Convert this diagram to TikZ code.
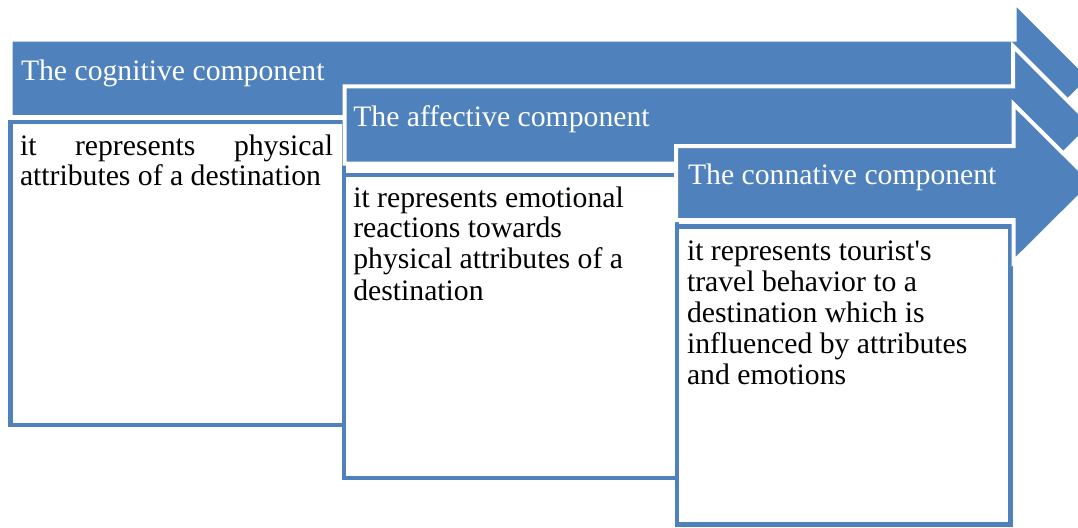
\documentclass[tikz,border=0pt]{standalone}
\usepackage{fontspec}
\setmainfont{Liberation Serif}
\definecolor{acc}{HTML}{4F81BD}
\tikzset{
  hdr/.style={fill=acc, draw=white, line width=4pt, line join=miter, miter limit=10},
  bx/.style={fill=white, draw=acc, line width=4.5pt, line join=miter},
  hdtext/.style={anchor=base west, inner sep=0pt, outer sep=0pt, text=white, font=\fontsize{29.7}{31}\selectfont},
  bdtext/.style={anchor=base west, inner sep=0pt, outer sep=0pt, text=black, font=\fontsize{29.7}{31}\selectfont}
}
\begin{document}
\begin{tikzpicture}[x=1pt,y=-1pt]
\useasboundingbox (0,0) rectangle (1078,527);
\clip (0,0) rectangle (1078,527);
% ---- component 1
\draw[bx] (10.5,122) rectangle (344,425);
\node[bdtext] (b1a) at (20,155) {\hbox to 313pt{it\hfill represents\hfill physical}};
\node[bdtext] (b1b) at (20,185.5) {attributes of a destination};
\path[hdr] (10.7,39.7) -- (1014.5,39.7) -- (1014.5,2) -- (1090.5,78) -- (1014.5,154) -- (1014.5,117) -- (10.7,117) -- cycle;
\node[hdtext] (h1) at (21,80) {The cognitive component};
% ---- component 2
\draw[bx] (344,175) rectangle (677,478);
\node[bdtext] (b2a) at (353.3,207) {it represents emotional};
\node[bdtext] (b2b) at (353.3,237) {reactions towards};
\node[bdtext] (b2c) at (353.3,268.5) {physical attributes of a};
\node[bdtext] (b2d) at (353.3,300) {destination};
\path[hdr] (344.5,86.3) -- (1013,86.3) -- (1013,46) -- (1092,125) -- (1013,204) -- (1013,163.7) -- (344.5,163.7) -- cycle;
\node[hdtext] (h2) at (353.3,126.5) {The affective component};
% ---- component 3
\draw[bx] (677,226.5) rectangle (1010.5,524.5);
\node[bdtext] (b3a) at (687,260) {it represents tourist\textquotesingle s};
\node[bdtext] (b3b) at (687,291) {travel behavior to a};
\node[bdtext] (b3c) at (687,322) {destination which is};
\node[bdtext] (b3d) at (687,353) {influenced by attributes};
\node[bdtext] (b3e) at (687,384) {and emotions};
\path[hdr] (676,146) -- (1013.5,146) -- (1013.5,104) -- (1093,183) -- (1013.5,262) -- (1013.5,220) -- (676,220) -- cycle;
\node[hdtext] (h3) at (688,184) {The connative component};
\end{tikzpicture}
\end{document}
